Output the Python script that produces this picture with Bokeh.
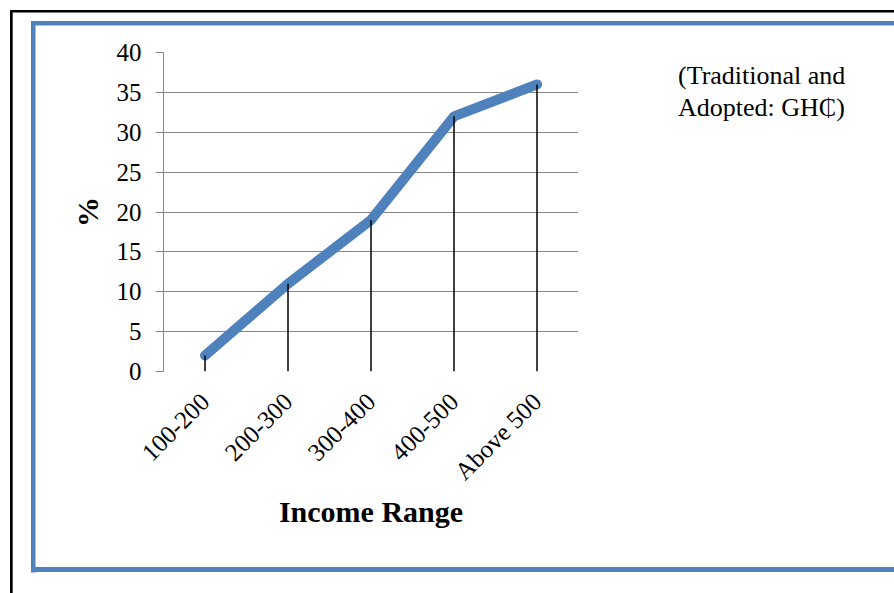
import math
from bokeh.plotting import figure
from bokeh.layouts import row
from bokeh.models import (ColumnDataSource, FactorRange, Range1d, FixedTicker,
                          Legend, LegendItem)
from bokeh.embed import file_html
from bokeh.resources import INLINE

categories = ["100-200", "200-300", "300-400", "400-500", "Above 500"]
values = [2, 11, 19, 32, 36]
y_ticks = [0, 5, 10, 15, 20, 25, 30, 35, 40]
series_name_lines = ["New Income Level", "(Traditional and", "Adopted: GH\u20b5)"]
x_title = "Income Range"
y_title = "%"

BLUE = "#4F81BD"
GRAY = "#868686"
FONT = "Liberation Serif"

W, H = 578, 593          # main chart canvas
WL = 316                 # legend canvas to its right
FL, FR, FT, FB = 163, 578, 52, 371  # frame edges in canvas px


def css_lines(lines):
    return {
        "background-color": "white",
        "background-image": ", ".join(f"linear-gradient({c},{c})" for c, _, _ in lines),
        "background-position": ", ".join(pos for _, pos, _ in lines),
        "background-size": ", ".join(sz for _, _, sz in lines),
        "background-repeat": "no-repeat",
    }


# decorative page frames (black outer, blue inner)
main_lines = [
    ("black", "10px 9.5px", f"{W - 10}px 2.5px"),
    ("black", "10px 9.5px", "2.7px 584px"),
    (BLUE, "31px 20.5px", f"{W - 31}px 4.5px"),
    (BLUE, "31px 20.5px", "4.5px 551.5px"),
    (BLUE, "31px 567px", f"{W - 31}px 5px"),
]
side_lines = [
    ("black", "0px 9.5px", f"{WL}px 2.5px"),
    (BLUE, "0px 20.5px", f"{WL}px 4.5px"),
    (BLUE, "0px 567px", f"{WL}px 5px"),
]

src = ColumnDataSource(dict(cat=categories, val=values, zero=[0] * len(values)))

p = figure(x_range=FactorRange(factors=categories), y_range=Range1d(0, 40),
           width=W, height=H, output_backend="svg", toolbar_location=None,
           min_border_left=FL, min_border_right=W - FR,
           min_border_top=FT, min_border_bottom=H - FB,
           styles=css_lines(main_lines))

p.background_fill_color = "white"
p.border_fill_alpha = 0
p.outline_line_color = None

# axes
p.yaxis.ticker = FixedTicker(ticks=y_ticks)
p.yaxis.axis_line_color = GRAY
p.yaxis.major_tick_line_color = GRAY
p.yaxis.major_tick_out = 8
p.yaxis.major_tick_in = 0
p.yaxis.minor_tick_line_color = None
p.yaxis.major_label_text_font = FONT
p.yaxis.major_label_text_font_size = "25px"
p.yaxis.major_label_text_color = "black"
p.yaxis.major_label_standoff = 14
p.yaxis.axis_label = y_title
p.yaxis.axis_label_text_font = FONT
p.yaxis.axis_label_text_font_size = "30px"
p.yaxis.axis_label_text_font_style = "bold"
p.yaxis.axis_label_text_color = "black"
p.yaxis.axis_label_standoff = 10

p.xaxis.axis_line_color = None
p.xaxis.major_tick_line_color = None
p.xaxis.minor_tick_line_color = None
p.xaxis.major_label_orientation = math.pi / 4
p.xaxis.major_label_text_font = FONT
p.xaxis.major_label_text_font_size = "25px"
p.xaxis.major_label_text_color = "black"
p.xaxis.major_label_standoff = 20
p.xaxis.axis_label = x_title
p.xaxis.axis_label_text_font = FONT
p.xaxis.axis_label_text_font_size = "30px"
p.xaxis.axis_label_text_font_style = "bold"
p.xaxis.axis_label_text_color = "black"
p.xaxis.axis_label_standoff = -3

p.xgrid.grid_line_color = None
p.ygrid.ticker = FixedTicker(ticks=y_ticks)
p.ygrid.grid_line_color = GRAY
p.ygrid.grid_line_width = 1

# series
line_style = dict(line_color=BLUE, line_width=10, line_join="round", line_cap="round")
r = p.line(x="cat", y="val", source=src, **line_style)
p.segment(x0="cat", y0="zero", x1="cat", y1="val", source=src,
          line_color="black", line_width=1.5)

# legend panel to the right of the chart
side = figure(width=WL, height=H, x_range=Range1d(0, 1), y_range=Range1d(0, 1),
              x_axis_location=None, y_axis_location=None,
              output_backend="svg", toolbar_location=None, min_border=0,
              styles=css_lines(side_lines))
side.grid.grid_line_color = None
side.outline_line_color = None
side.background_fill_alpha = 0
side.border_fill_alpha = 0
key = side.line(x=[], y=[], **line_style)  # legend key styled like the series

items = [LegendItem(label=series_name_lines[0], renderers=[key])]
items += [LegendItem(label=t, renderers=[]) for t in series_name_lines[1:]]
legend = Legend(items=items, location=(44, 248), padding=0, margin=0, spacing=1,
                border_line_color=None, background_fill_alpha=0,
                glyph_width=46, glyph_height=31, label_height=31,
                label_standoff=10, label_text_font=FONT,
                label_text_font_size="26px", label_text_color="black")
side.add_layout(legend, "center")

page = row(p, side)
open("out.html", "w").write(file_html(page, INLINE))
